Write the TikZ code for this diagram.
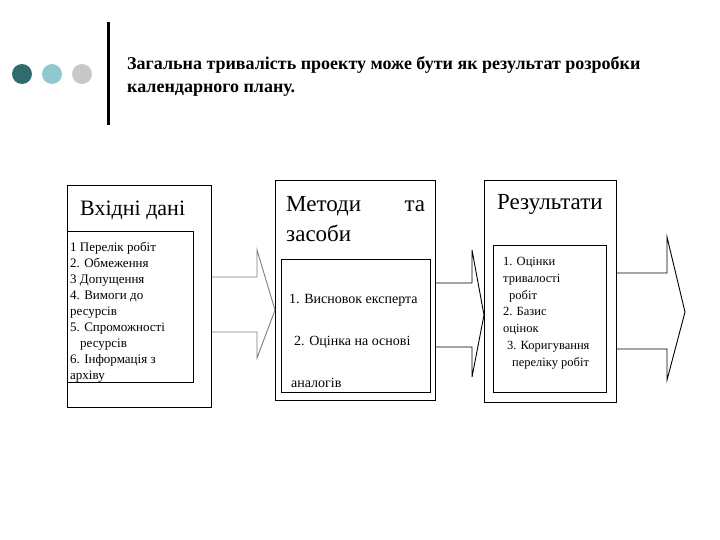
\documentclass[tikz,border=0pt]{standalone}
\usepackage{fontspec}
\setmainfont{Liberation Serif}
\usetikzlibrary{calc}
\definecolor[named]{dotDark}{RGB}{47,107,111}
\definecolor[named]{dotLight}{RGB}{143,200,207}
\definecolor[named]{dotGrey}{RGB}{200,200,200}
\definecolor[named]{arrowGrey}{RGB}{125,125,125}

\begin{document}
\begin{tikzpicture}
[%
    x=1pt, y=-1pt,
    outerbox/.style={
      rectangle,
      draw,
      line width=1pt,
      anchor=north west,
      inner sep=0pt
    },
    innerbox/.style={
      rectangle,
      draw,
      line width=0.8pt,
      anchor=north west,
      inner sep=0pt
    },
    title/.style={
      anchor=base west,
      inner sep=0pt,
      align=left,
      font=\fontsize{23}{30}\selectfont
    },
    items/.style={
      anchor=base west,
      inner sep=0pt,
      align=left,
      font=\fontsize{13}{16}\selectfont
    },
    dot/.style={
      circle,
      minimum size=20pt,
      inner sep=0pt
    },
    blockarrow/.style={
      line width=0.9pt,
      line join=miter
    }
  ]
  \useasboundingbox (0,0) rectangle (720,540);

  %Header
  \node[dot, fill=dotDark] (dotA) at (22,74) {};
  \node[dot, fill=dotLight] (dotB) at (52,74) {};
  \node[dot, fill=dotGrey] (dotC) at (82,74) {};
  \draw[line width=3pt] (108,22) -- (108,125);
  \node[anchor=base west, inner sep=0pt, align=left,
        font=\fontsize{18}{23}\selectfont\bfseries] (head) at (127,93)
    {Загальна тривалість проекту може бути як результат розробки\\календарного плану.};

  %Inputs
  \draw (67,185) node[outerbox, minimum width=144pt, minimum height=222pt] (inBox) {};
  \draw (67,231) node[innerbox, minimum width=126pt, minimum height=151pt] (inList) {};
  \node[title, font=\fontsize{22}{30}\selectfont] (inTitle) at (80,215) {Вхідні дані};
  \node[items] (inItems) at (70,379)
    {1 Перелік робіт\\2. Обмеження\\3 Допущення\\4. Вимоги до\\ресурсів\\5. Спроможності\\
     \hspace*{10pt}ресурсів\\6. Інформація з\\архіву};

  %Methods
  \draw (275,180) node[outerbox, minimum width=160pt, minimum height=220pt] (mtBox) {};
  \draw (281,259) node[innerbox, minimum width=149pt, minimum height=133pt] (mtList) {};
  \node[title] (mtTitle) at (286,241) {\makebox[139pt][s]{Методи\hfill та}\\засоби};
  \node[items, font=\fontsize{14}{42}\selectfont] (mtItems) at (289,387)
    {1. Висновок експерта\\\hspace*{5pt}2. Оцінка на основі\\\hspace*{2pt}аналогів};

  %Results
  \draw (484,180) node[outerbox, minimum width=132pt, minimum height=222pt] (rsBox) {};
  \draw (493,245) node[innerbox, minimum width=113pt, minimum height=147pt] (rsList) {};
  \node[title] (rsTitle) at (497,210) {Результати};
  \node[items, font=\fontsize{12.5}{16.7}\selectfont] (rsItems) at (503,366)
    {1. Оцінки\\тривалості\\\hspace*{6pt}робіт\\2. Базис\\оцінок\\
     \hspace*{4pt}3. Коригування\\\hspace*{9pt}переліку робіт};

  %Arrows
  \coordinate (outTip) at (685,312);
  \draw[blockarrow, arrowGrey] (inBox.east |- 0,277) -- (257,277) -- (257,250)
    -- (mtBox.west |- 0,310) -- (257,358) -- (257,332) -- (inBox.east |- 0,332);
  \draw[blockarrow] (mtBox.east |- 0,283) -- (472,283) -- (472,250)
    -- (rsBox.west |- 0,315) -- (472,377) -- (472,347) -- (mtBox.east |- 0,347);
  \draw[blockarrow] (rsBox.east |- 0,273) -- (667,273) -- (667,237)
    -- (outTip) -- (667,380) -- (667,349) -- (rsBox.east |- 0,349);

\end{tikzpicture}
\end{document}
